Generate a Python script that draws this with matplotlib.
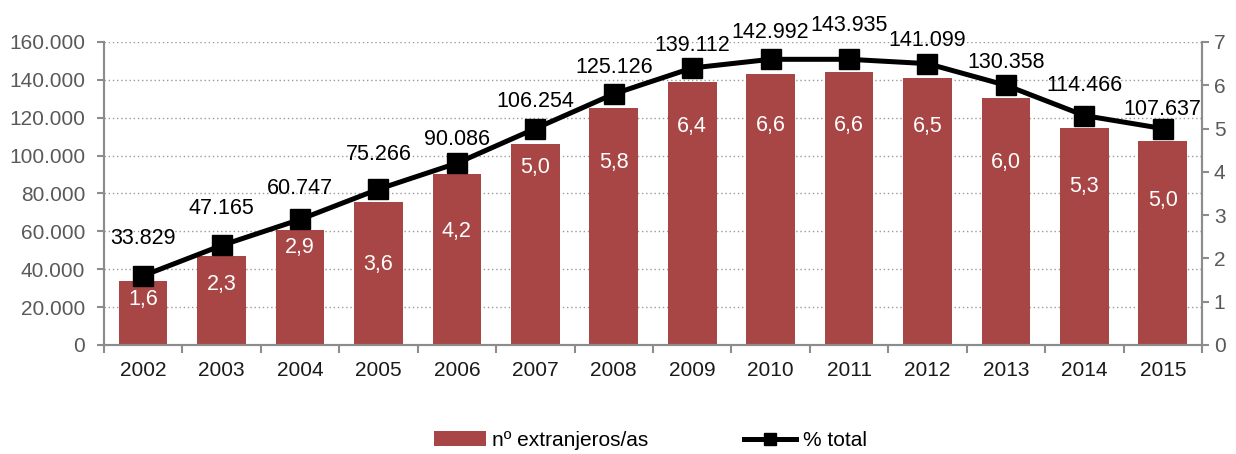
import numpy as np
import matplotlib as mpl
import matplotlib.pyplot as plt
from matplotlib.ticker import FuncFormatter, MultipleLocator

mpl.rcParams['font.family'] = ['Liberation Sans', 'DejaVu Sans']

# data
years = ['2002', '2003', '2004', '2005', '2006', '2007', '2008',
         '2009', '2010', '2011', '2012', '2013', '2014', '2015']
extranjeros = [33829, 47165, 60747, 75266, 90086, 106254, 125126,
               139112, 142992, 143935, 141099, 130358, 114466, 107637]
pct_total = [1.6, 2.3, 2.9, 3.6, 4.2, 5.0, 5.8,
             6.4, 6.6, 6.6, 6.5, 6.0, 5.3, 5.0]

bar_color = '#A84646'
axis_gray = '#8C8C8C'
text_gray = '#595959'

fig = plt.figure(figsize=(12.36, 4.54), dpi=100)
ax = fig.add_axes([0.0841, 0.2401, 0.9725 - 0.0841, 0.9075 - 0.2401])
ax2 = ax.twinx()

x = np.arange(len(years))
ax.bar(x, extranjeros, width=0.62, color=bar_color, zorder=2,
       label='nº extranjeros/as')
ax.set_ylim(0, 160000)
ax.set_xlim(-0.5, len(years) - 0.5)
ax.yaxis.set_major_locator(MultipleLocator(20000))
ax.yaxis.set_major_formatter(FuncFormatter(lambda v, p: '{:,.0f}'.format(v).replace(',', '.')))
ax.grid(axis='y', linestyle=(0, (1, 2)), color='#9A9A9A', linewidth=1.0, zorder=0)
ax.set_axisbelow(True)

ax.set_xticks(x)
ax.set_xticklabels(years, fontsize=15, color='#1A1A1A')
ax.set_xticks(np.arange(-0.5, len(years)), minor=True)
ax.tick_params(axis='x', which='major', length=0, pad=11.5)
ax.tick_params(axis='x', which='minor', length=6, color=axis_gray, width=1.5)
ax.tick_params(axis='y', labelsize=15, labelcolor=text_gray, length=5,
               color=axis_gray, width=1.5, pad=8.5)

ax2.plot(x, pct_total, color='black', linewidth=3.6, marker='s',
         markersize=14, label='% total', zorder=3)
ax2.set_ylim(0, 7)
ax2.yaxis.set_major_locator(MultipleLocator(1))
ax2.tick_params(axis='y', labelsize=15, labelcolor=text_gray, length=5,
                color=axis_gray, width=1.5)

for a in (ax, ax2):
    a.spines['top'].set_visible(False)
    for s in ('left', 'right', 'bottom'):
        a.spines[s].set_color(axis_gray)
        a.spines[s].set_linewidth(1.5)

# labels: counts above the line, percentages inside bars (offsets in points)
count_off = [26.6, 26.6, 22.3, 24.6, 17.2, 19.8, 19.1,
             16.1, 19.1, 24.1, 16.8, 16.5, 21.6, 14]
pct_off = [-17.4, -28, -20.4, -54, -49.1, -28.3, -49.4,
           -42, -48, -48, -45, -55.3, -51, -52]
for i in range(len(years)):
    ax2.annotate('{:,}'.format(extranjeros[i]).replace(',', '.'),
                 (x[i], pct_total[i]), xytext=(0, count_off[i]),
                 textcoords='offset points', ha='center', va='center',
                 fontsize=15.5, color='black', zorder=4)
    ax2.annotate('{:.1f}'.format(pct_total[i]).replace('.', ','),
                 (x[i], pct_total[i]), xytext=(0, pct_off[i]),
                 textcoords='offset points', ha='center', va='center',
                 fontsize=15.5, color='white', zorder=4)

h1, l1 = ax.get_legend_handles_labels()
h2, l2 = ax2.get_legend_handles_labels()
fig.legend(h1 + h2, l1 + l2, loc='center', bbox_to_anchor=(0.526, 0.03),
           ncol=2, frameon=False, fontsize=15, columnspacing=4.6,
           handlelength=2.5, handletextpad=0.3, markerscale=0.6)

fig.savefig('out.png', dpi=100)
